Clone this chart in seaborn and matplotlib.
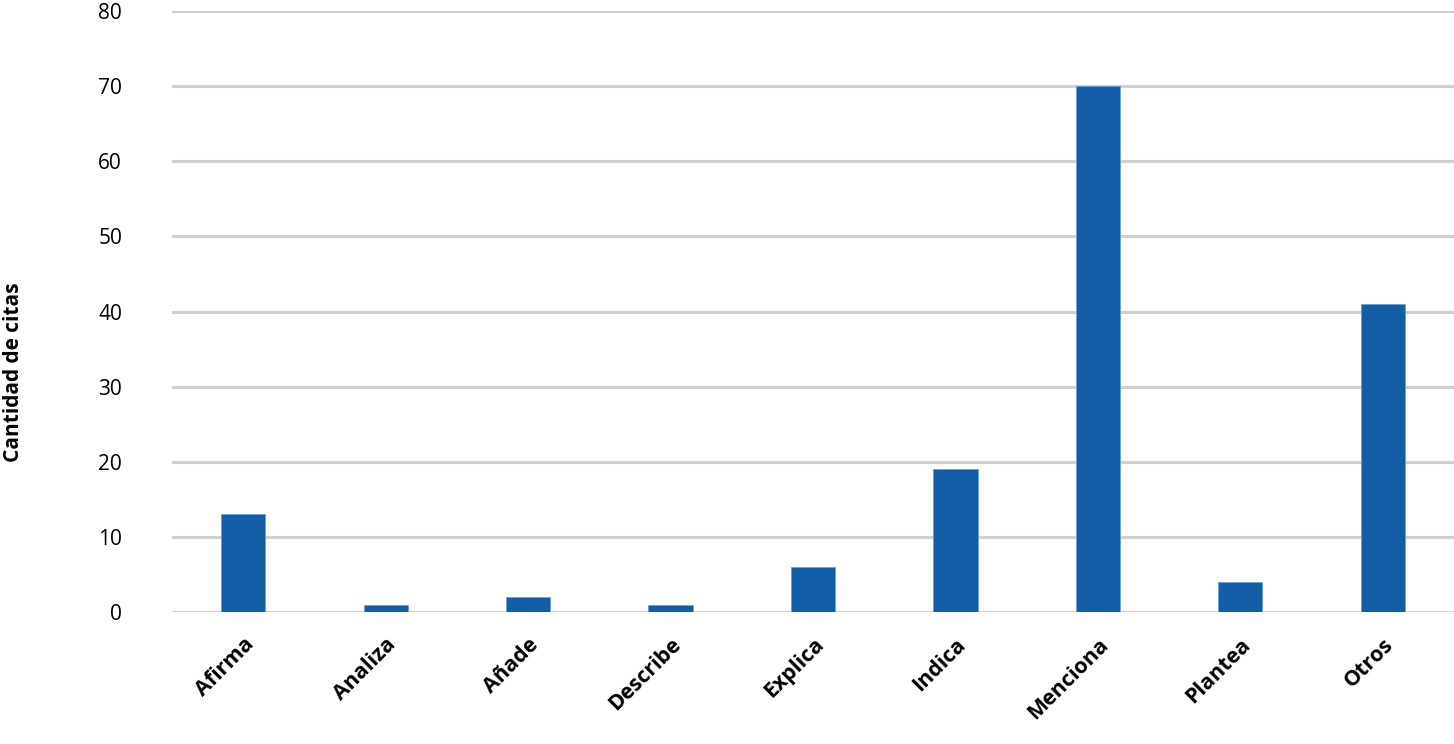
import pandas as pd
import numpy as np
import matplotlib.pyplot as plt
import seaborn as sns

categorias = ['Afirma', 'Analiza', 'Añade', 'Describe', 'Explica',
              'Indica', 'Menciona', 'Plantea', 'Otros']
citas = [13, 1, 2, 1, 6, 19, 70, 4, 41]
yticks = [0, 10, 20, 30, 40, 50, 60, 70, 80]

df = pd.DataFrame({'verbo': categorias, 'citas': citas})

sns.set_style('white')
plt.rcParams['font.family'] = ['Open Sans', 'DejaVu Sans']
plt.rcParams['text.color'] = 'black'
plt.rcParams['xtick.color'] = 'black'
plt.rcParams['ytick.color'] = 'black'

fig = plt.figure(figsize=(14.54, 7.44), dpi=100)
ax = fig.add_axes([0.1183, 0.1774, 0.8817, 0.8078])

sns.barplot(data=df, x='verbo', y='citas', color='#135ca6', width=0.31,
            saturation=1, edgecolor='#6f9fd6', linewidth=0.6, ax=ax, zorder=3)

ax.set_ylim(0, 80)
ax.set_xlim(-0.5, 8.5)
ax.set_yticks(yticks)
ax.set_yticklabels([str(t) for t in yticks], fontsize=15)
ax.yaxis.grid(True, color='#d0d0d0', linewidth=2.2, zorder=0)
ax.set_axisbelow(True)
ax.tick_params(axis='y', length=0, pad=36)
ax.tick_params(axis='x', length=0, pad=16)
plt.setp(ax.get_xticklabels(), rotation=45, ha='right', rotation_mode='anchor',
         fontsize=15.5, fontweight='bold')
for s in ax.spines.values():
    s.set_visible(False)
ax.set_xlabel('')
ax.set_ylabel('')
fig.text(0.0096, 0.5, 'Cantidad de citas', rotation=90, va='center', ha='center',
         fontsize=15, fontweight='bold')

fig.savefig('out.png', dpi=100)
